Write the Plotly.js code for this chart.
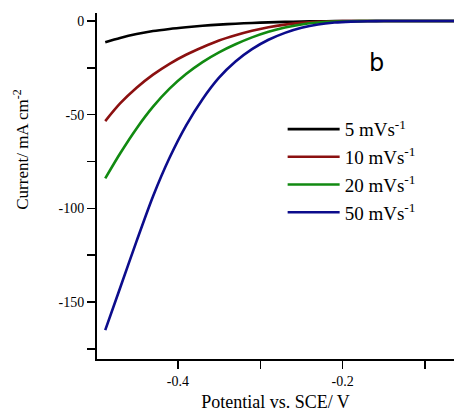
<!DOCTYPE html>
<html>
<head>
<meta charset="utf-8">
<script src="https://cdn.plot.ly/plotly-3.0.1.min.js"></script>
<style>html,body{margin:0;padding:0;background:#fff;}#chart{width:454px;height:412px;}</style>
</head>
<body>
<div id="chart"></div>
<script>
// Potential (V vs SCE)
const potential = [-0.488, -0.47, -0.45, -0.43, -0.41, -0.39, -0.37, -0.35, -0.33, -0.31, -0.29, -0.27, -0.25, -0.23, -0.21, -0.19, -0.17, -0.15, -0.12, -0.09, -0.065];
// Current density (mA cm^-2) for each scan rate
const i5  = [-11.3, -9.0, -6.9, -5.3, -4.2, -3.3, -2.5, -1.9, -1.4, -1.0, -0.7, -0.45, -0.25, -0.12, -0.05, 0, 0, 0, 0, 0, 0];
const i10 = [-53.4, -44.0, -35.6, -28.6, -22.8, -18.0, -14.0, -10.4, -7.6, -5.2, -3.3, -1.9, -0.95, -0.4, -0.12, 0, 0, 0, 0, 0, 0];
const i20 = [-84.0, -70.7, -57.3, -45.7, -36.1, -28.3, -21.9, -16.7, -12.4, -8.7, -5.7, -3.4, -1.8, -0.8, -0.3, -0.07, 0, 0, 0, 0, 0];
const i50 = [-165.0, -142.5, -117.5, -93.5, -73.0, -55.8, -41.7, -30.2, -21.6, -15.0, -10.0, -6.3, -3.6, -1.8, -0.8, -0.3, -0.08, 0, 0, 0, 0];
const seriesNames = ["5 mVs<sup>-1</sup>", "10 mVs<sup>-1</sup>", "20 mVs<sup>-1</sup>", "50 mVs<sup>-1</sup>"];
const seriesColors = ["#000000", "#8b1010", "#118a11", "#0c0c8c"];
const yTickVals = [0, -50, -100, -150];
const yTickText = ["0", "-50", "-100", "-150"];
const xTickVals = [-0.4, -0.2];
const xTickText = ["-0.4", "-0.2"];

const series = [i5, i10, i20, i50];
const traces = series.map((ys, k) => ({
  x: potential, y: ys, type: 'scatter', mode: 'lines', name: seriesNames[k],
  line: {color: seriesColors[k], width: 2.6, shape: 'spline', smoothing: 0.8}
}));

const serif = "Liberation Serif, Times New Roman, serif";
const layout = {
  width: 454, height: 412,
  margin: {l: 97, r: 0, t: 13, b: 53},
  paper_bgcolor: '#fff', plot_bgcolor: '#fff',
  showlegend: true,
  legend: {x: 0.52, y: 0.719, xanchor: 'left', yanchor: 'top', bgcolor: 'rgba(0,0,0,0)', itemwidth: 52,
           font: {family: serif, size: 19, color: '#000'}, tracegroupgap: 0},
  xaxis: {range: [-0.498, -0.065], showgrid: false, zeroline: false, showline: true, linecolor: '#000', linewidth: 2,
          ticks: 'outside', ticklen: 8, tickwidth: 1.5, tickcolor: '#000', tickvals: xTickVals, ticktext: xTickText,
          tickfont: {family: serif, size: 14, color: '#000'},
          minor: {dtick: 0.1, tick0: 0, ticks: 'outside', ticklen: 8, tickwidth: 1.5, tickcolor: '#000', showgrid: false},
          title: {text: 'Potential vs. SCE/ V', font: {family: serif, size: 18, color: '#000'}, standoff: 12}},
  yaxis: {range: [-180.4, 4.3], showgrid: false, zeroline: false, showline: true, linecolor: '#000', linewidth: 2,
          ticks: 'outside', ticklen: 8, tickwidth: 1.5, tickcolor: '#000', tickvals: yTickVals, ticktext: yTickText,
          tickfont: {family: serif, size: 14, color: '#000'},
          minor: {dtick: 25, tick0: 0, ticks: 'outside', ticklen: 8, tickwidth: 1.5, tickcolor: '#000', showgrid: false}},
  annotations: [
    {text: 'Current/ mA cm<sup>-2</sup>', xref: 'paper', yref: 'paper', x: -0.25, y: 0.604, textangle: -90,
     showarrow: false, font: {family: serif, size: 17, color: '#000'}},
    {text: 'b', xref: 'paper', yref: 'paper', x: 0.809, y: 0.902, showarrow: false,
     font: {family: 'DejaVu Sans, Arial, sans-serif', size: 24, color: '#000'}}
  ]
};
Plotly.newPlot('chart', traces, layout, {displayModeBar: false, staticPlot: true});
</script>
</body>
</html>
